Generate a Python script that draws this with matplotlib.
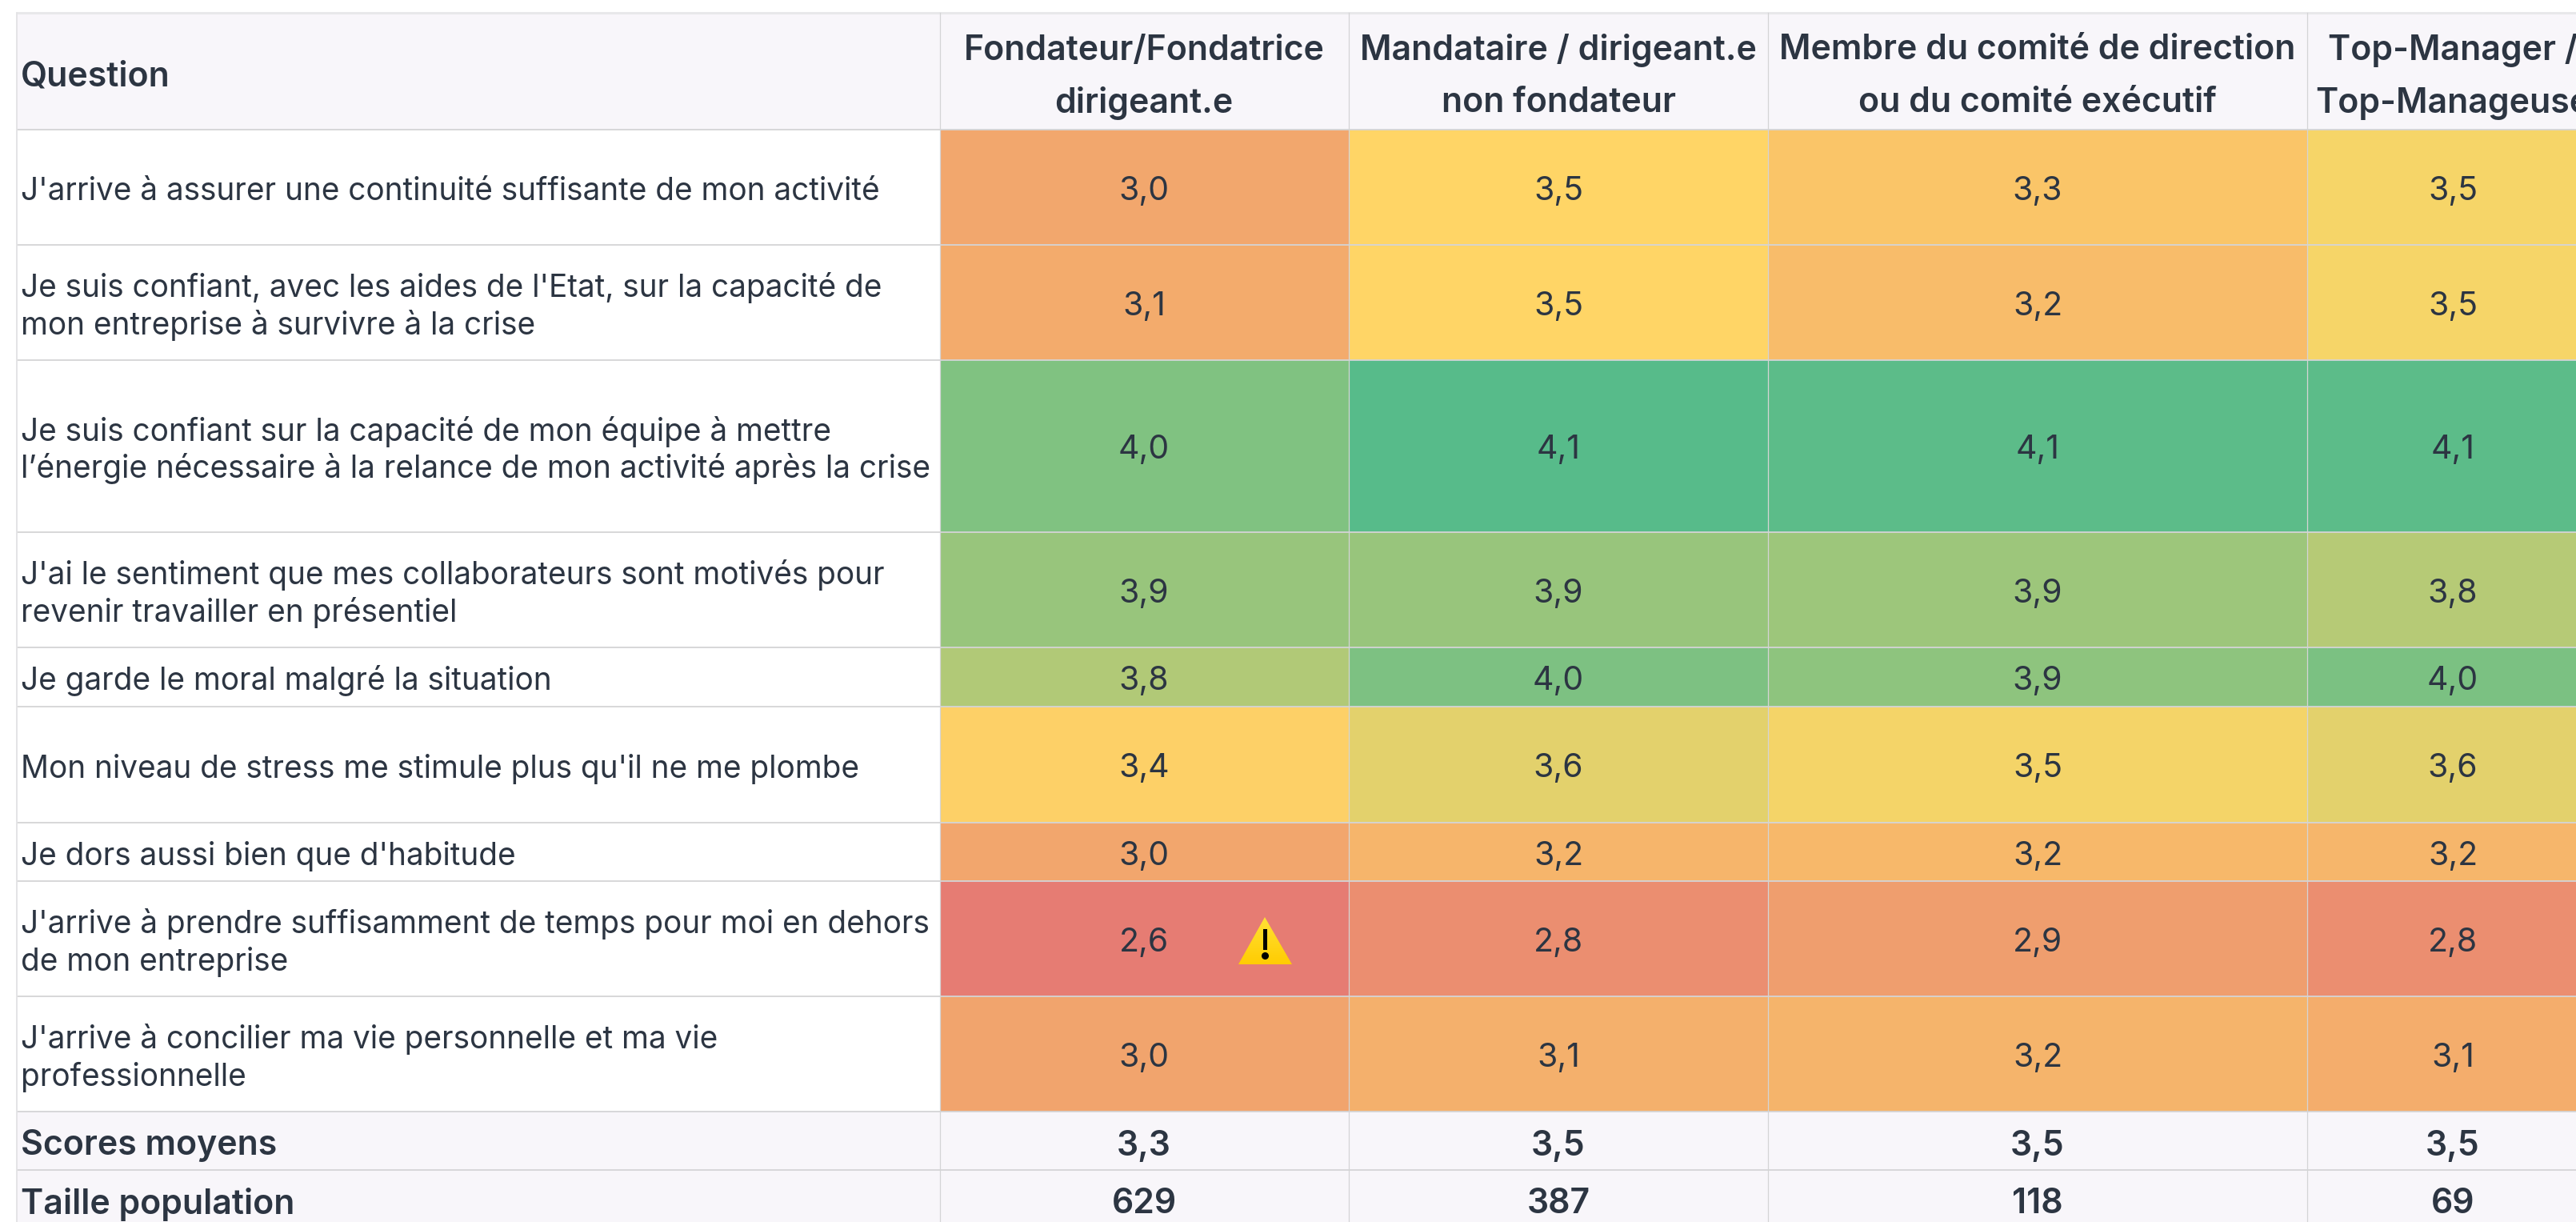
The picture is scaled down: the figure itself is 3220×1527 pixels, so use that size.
import numpy as np
import matplotlib
matplotlib.use("Agg")
import matplotlib.pyplot as plt
from matplotlib.colors import LinearSegmentedColormap, TwoSlopeNorm
from matplotlib.patches import Polygon, Rectangle

# ---- data ----
questions = [
    "J'arrive à assurer une continuité suffisante de mon activité",
    "Je suis confiant, avec les aides de l'Etat, sur la capacité de\nmon entreprise à survivre à la crise",
    "Je suis confiant sur la capacité de mon équipe à mettre\nl’énergie nécessaire à la relance de mon activité après la crise",
    "J'ai le sentiment que mes collaborateurs sont motivés pour\nrevenir travailler en présentiel",
    "Je garde le moral malgré la situation",
    "Mon niveau de stress me stimule plus qu'il ne me plombe",
    "Je dors aussi bien que d'habitude",
    "J'arrive à prendre suffisamment de temps pour moi en dehors\nde mon entreprise",
    "J'arrive à concilier ma vie personnelle et ma vie\nprofessionnelle",
]
columns = [
    "Fondateur/Fondatrice\ndirigeant.e",
    "Mandataire / dirigeant.e\nnon fondateur",
    "Membre du comité de direction\nou du comité exécutif",
    "Top-Manager /\nTop-Manageuse",
]
fondateur = [3.03, 3.07, 3.95, 3.87, 3.78, 3.44, 3.02, 2.60, 3.00]
mandataire = [3.49, 3.49, 4.10, 3.87, 3.96, 3.60, 3.17, 2.78, 3.12]
membre = [3.33, 3.24, 4.08, 3.85, 3.90, 3.54, 3.20, 2.94, 3.16]
top_manager = [3.53, 3.53, 4.08, 3.76, 3.97, 3.60, 3.18, 2.78, 3.09]
scores_moyens = ["3,3", "3,5", "3,5", "3,5"]
taille_population = ["629", "387", "118", "69"]
footer_labels = ["Scores moyens", "Taille population"]
header_label = "Question"

# ---- layout (pixels) ----
W, H = 3220, 1527
col_edges = np.array([1175, 1686, 2210, 2884, 3248])
row_edges = np.array([162, 306, 450, 665, 809, 883, 1028, 1101, 1245, 1389])
top, left, foot1, foot2 = 16, 21, 1462, 1535
col_text_x = [1430, 1948, 2547, 3066]

INK = "#2C3542"
HEAD = "#F8F6FA"
LINE = "#D4D4D6"
FONT = "Inter"
BODY, HEADSZ, VAL = 27.9, 30.8, 29.5

cmap = LinearSegmentedColormap.from_list("heat", ["#E67C73", "#FFD666", "#57BB8A"])
norm = TwoSlopeNorm(vmin=2.6, vcenter=3.5, vmax=4.1)

fig = plt.figure(figsize=(W / 100, H / 100), dpi=100, facecolor="white")
ax = fig.add_axes([0, 0, 1, 1])
ax.set_xlim(0, W)
ax.set_ylim(H, 0)
ax.axis("off")

values = np.array([fondateur, mandataire, membre, top_manager]).T
ax.pcolormesh(col_edges, row_edges, values, cmap=cmap, norm=norm, zorder=1)

# header and footer bands
for (y0, y1) in [(top, row_edges[0]), (row_edges[-1], foot1), (foot1, foot2)]:
    ax.add_patch(Rectangle((left, y0), W - left, y1 - y0, fc=HEAD, ec="none", zorder=1))

# grid lines
ys = [row_edges[0]] + list(row_edges[1:]) + [foot1]
for y in ys:
    ax.plot([left, W], [y, y], color=LINE, lw=1.3, zorder=2, solid_capstyle="butt")
ax.plot([left, W], [top, top], color="#E8E8EA", lw=2.2, zorder=2, solid_capstyle="butt")
ax.plot([left, left], [top, H], color="#E2E2E4", lw=1.3, zorder=2)
for x in col_edges[:-1]:
    ax.plot([x, x], [top, H], color=LINE, lw=0.9, zorder=2)


def lines_at(x, yc, text, size, ha, weight, step, off):
    parts = text.split("\n")
    for i, p in enumerate(parts):
        y = yc + off + (i - (len(parts) - 1) / 2) * step
        ax.text(x, y, p, fontsize=size, ha=ha, va="baseline", color=INK,
                family=FONT, weight=weight, zorder=5)


head_c = (top + row_edges[0]) / 2
lines_at(26, head_c, header_label, HEADSZ, "left", "semibold", 66, 19)
for x, c in zip(col_text_x, columns):
    lines_at(x, head_c, c, HEADSZ, "center", "semibold", 66, 18.5)

for i, q in enumerate(questions):
    yc = (row_edges[i] + row_edges[i + 1]) / 2
    lines_at(26, yc, q, BODY, "left", "normal", 46.5, 16.5)
    for j, x in enumerate(col_text_x):
        lines_at(x, yc, f"{values[i, j]:.1f}".replace(".", ","), VAL, "center", "normal", 47, 16)

for y0, y1, lab, vals in [(row_edges[-1], foot1, footer_labels[0], scores_moyens),
                          (foot1, foot2, footer_labels[1], taille_population)]:
    yc = (y0 + y1) / 2
    lines_at(26, yc, lab, HEADSZ, "left", "semibold", 66, 18)
    for x, v in zip(col_text_x, vals):
        lines_at(x, yc, v, HEADSZ, "center", "semibold", 66, 18)

# warning icon beside the lowest score
grad = ax.imshow(np.linspace(0, 1, 64).reshape(-1, 1), extent=(1545, 1618, 1208, 1145),
                 cmap=LinearSegmentedColormap.from_list("w", ["#FFE135", "#FFCB00"]),
                 aspect="auto", zorder=4)
grad.set_clip_path(Polygon([(1581, 1146), (1615, 1205), (1548, 1205)], closed=True,
                           transform=ax.transData))
ax.set_xlim(0, W)
ax.set_ylim(H, 0)
ax.add_patch(Rectangle((1579, 1161), 4.5, 26, fc="black", ec="none", zorder=5))
ax.plot([1581], [1194], "o", color="black", ms=5.5, zorder=5)

fig.savefig("out.png", dpi=100, facecolor="white")
